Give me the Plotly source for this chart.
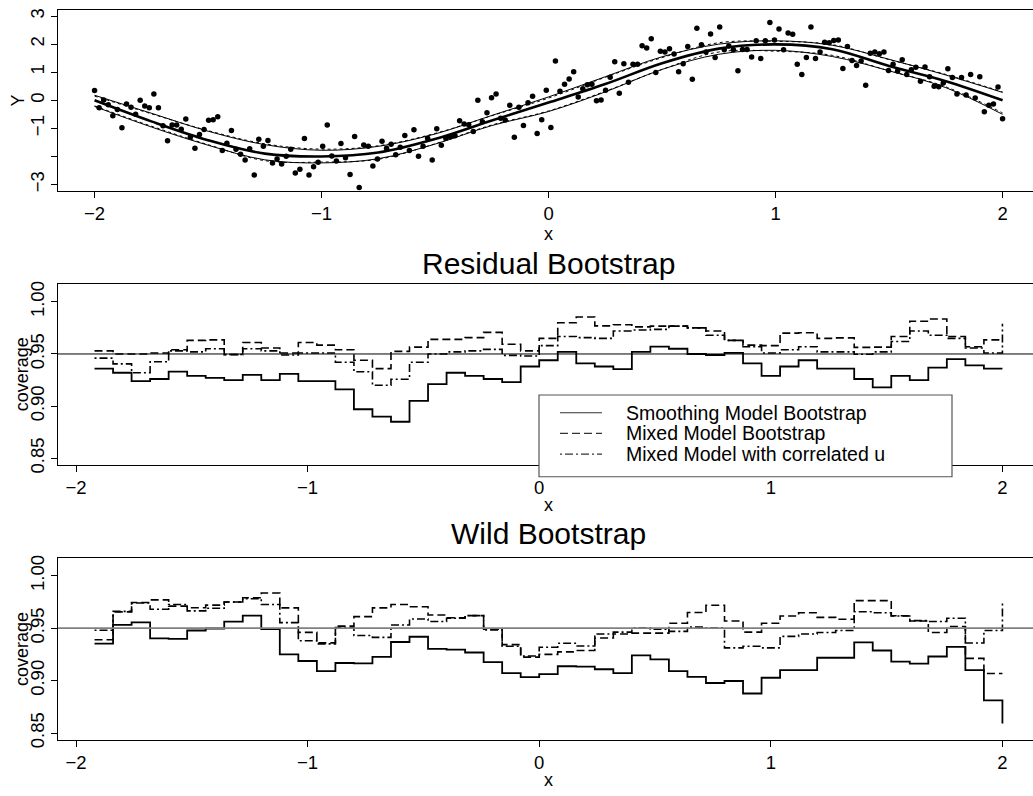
import numpy as np
import plotly.graph_objects as go

W, H = 1033, 796

# ---------------- data: top panel ----------------
pts_x = np.round(np.linspace(-2, 2, 200), 4).tolist()
pts_y = [
    0.35, -0.27, 0.01, -0.16, -0.55, -0.33, -0.98, -0.13, -0.25, -0.50,
    0.00, -0.20, -0.27, 0.22, -0.27, -0.91, -1.44, -0.88, -0.88, -1.03,
    -0.67, -1.31, -1.71, -1.22, -1.04, -0.71, -0.69, -0.59, -1.79, -1.53,
    -1.08, -1.74, -1.92, -2.13, -1.73, -2.66, -1.39, -1.64, -1.43, -2.23,
    -2.09, -2.27, -1.99, -1.74, -2.59, -2.46, -1.36, -2.66, -2.37, -2.21,
    -1.64, -0.88, -1.98, -2.16, -1.54, -2.05, -2.64, -1.29, -3.11, -1.59,
    -1.64, -2.34, -2.09, -1.46, -1.71, -1.57, -1.94, -1.67, -1.25, -1.79,
    -1.05, -1.99, -1.64, -1.35, -2.13, -1.01, -1.60, -1.35, -1.30, -1.26,
    -0.73, -0.84, -0.87, -1.11, 0.00, -0.76, -0.44, 0.09, 0.22, -0.64,
    -0.70, -0.18, -1.32, -0.25, -0.90, -0.09, 0.14, -1.18, -0.69, 0.36,
    -0.97, 1.40, 0.32, 0.57, 0.76, 1.02, 0.12, 0.41, 0.55, 0.57,
    -0.02, 0.01, 0.36, 0.82, 1.37, 0.25, 1.30, 0.64, 1.28, 1.28,
    1.94, 1.86, 2.19, 0.99, 1.75, 1.72, 1.84, 1.65, 1.02, 1.30,
    1.92, 0.75, 2.57, 1.98, 1.72, 2.36, 1.52, 2.61, 1.80, 1.93,
    1.80, 1.05, 1.81, 1.81, 1.54, 2.12, 1.49, 2.12, 2.77, 2.15,
    2.54, 1.80, 2.40, 2.35, 1.28, 0.92, 1.52, 2.61, 1.49, 1.72,
    2.07, 2.05, 2.13, 2.15, 1.13, 1.92, 1.42, 1.24, 1.40, 0.54,
    1.68, 1.72, 1.66, 1.72, 1.06, 1.28, 1.04, 1.44, 0.92, 1.09,
    1.18, 0.68, 1.19, 0.84, 0.50, 0.48, 0.62, 1.12, 0.81, 0.22,
    0.81, 0.19, 0.92, 0.08, 0.84, -0.41, -0.18, -0.13, 0.47, -0.66,
]

curve_x = [-2.0, -1.75, -1.5, -1.25, -1.0, -0.75, -0.5, -0.25, 0.0,
           0.25, 0.5, 0.75, 1.0, 1.25, 1.5, 1.75, 2.0]
fit_y = [0.0, -0.75, -1.42, -1.90, -2.00, -1.86, -1.38, -0.72, -0.08,
         0.58, 1.32, 1.84, 1.99, 1.82, 1.22, 0.68, 0.0]
band_up = [0.18, -0.46, -1.10, -1.58, -1.78, -1.64, -1.20, -0.54, 0.12,
           0.84, 1.55, 2.00, 2.12, 1.96, 1.46, 0.90, 0.28]
band_lo = [-0.22, -0.95, -1.60, -2.12, -2.23, -2.08, -1.56, -0.90, -0.40,
           0.30, 1.10, 1.64, 1.78, 1.56, 1.05, 0.45, -0.50]
dot_up = [0.15, -0.48, -1.08, -1.55, -1.74, -1.62, -1.18, -0.55, 0.08,
          0.82, 1.52, 2.05, 2.10, 1.98, 1.45, 0.92, 0.30]
dot_lo = [-0.20, -0.92, -1.58, -2.15, -2.20, -2.10, -1.55, -0.88, -0.38,
          0.32, 1.10, 1.72, 1.75, 1.60, 1.05, 0.48, -0.45]

# ---------------- data: coverage panels ----------------
bin_x = [round(-1.92 + 0.08 * k, 2) for k in range(50)]

res_smooth = [
    0.936, 0.932, 0.924, 0.926, 0.933, 0.929, 0.927, 0.925, 0.930, 0.925,
    0.931, 0.924, 0.924, 0.916, 0.897, 0.890, 0.885, 0.905, 0.921, 0.932,
    0.929, 0.926, 0.923, 0.938, 0.944, 0.952, 0.941, 0.938, 0.9355, 0.952,
    0.957, 0.955, 0.950, 0.949, 0.951, 0.941, 0.929, 0.938, 0.944, 0.936,
    0.936, 0.926, 0.918, 0.929, 0.925, 0.937, 0.945, 0.939, 0.936, 0.936,
]
res_mixed = [
    0.953, 0.950, 0.950, 0.951, 0.954, 0.963, 0.9635, 0.9494, 0.961, 0.9557,
    0.951, 0.961, 0.9585, 0.954, 0.944, 0.936, 0.9525, 0.9566, 0.964, 0.964,
    0.9657, 0.9707, 0.9594, 0.953, 0.965, 0.980, 0.9855, 0.977, 0.978, 0.976,
    0.9767, 0.9767, 0.975, 0.972, 0.963, 0.9585, 0.958, 0.970, 0.9704, 0.965,
    0.9654, 0.9563, 0.9566, 0.9667, 0.9814, 0.9836, 0.9667, 0.957, 0.9635, 0.9635,
]
res_corr = [
    0.946, 0.9405, 0.932, 0.9425, 0.953, 0.952, 0.955, 0.9495, 0.955, 0.953,
    0.949, 0.951, 0.951, 0.942, 0.933, 0.920, 0.9258, 0.942, 0.950, 0.952,
    0.953, 0.9544, 0.9487, 0.948, 0.958, 0.9667, 0.9657, 0.965, 0.972, 0.973,
    0.9736, 0.9767, 0.975, 0.968, 0.963, 0.957, 0.951, 0.954, 0.957, 0.952,
    0.952, 0.9497, 0.952, 0.962, 0.972, 0.968, 0.965, 0.9557, 0.951, 0.979,
]
wild_smooth = [
    0.9353, 0.9531, 0.9556, 0.9403, 0.9397, 0.9478, 0.9497, 0.9563, 0.962, 0.949,
    0.925, 0.9187, 0.909, 0.9168, 0.9165, 0.9227, 0.9368, 0.9418, 0.9303, 0.9296,
    0.9268, 0.9177, 0.9071, 0.9033, 0.9061, 0.9137, 0.9133, 0.9108, 0.9071, 0.924,
    0.9202, 0.909, 0.9036, 0.8977, 0.8996, 0.8877, 0.9027, 0.9099, 0.9099, 0.9218,
    0.9218, 0.9365, 0.9287, 0.918, 0.9162, 0.923, 0.9321, 0.9099, 0.8811, 0.8591,
]
wild_mixed = [
    0.939, 0.9655, 0.9745, 0.977, 0.971, 0.9695, 0.972, 0.975, 0.979, 0.9835,
    0.9694, 0.946, 0.936, 0.952, 0.961, 0.9694, 0.9726, 0.9704, 0.9625, 0.960,
    0.962, 0.949, 0.9343, 0.9224, 0.925, 0.9274, 0.9287, 0.9406, 0.9444, 0.9453,
    0.9453, 0.9547, 0.965, 0.9719, 0.9569, 0.9462, 0.9547, 0.9616, 0.9647, 0.9603,
    0.9585, 0.9763, 0.9763, 0.9619, 0.9569, 0.9459, 0.9516, 0.9212, 0.9068, 0.9068,
]
wild_corr = [
    0.948, 0.966, 0.974, 0.968, 0.9726, 0.9665, 0.969, 0.975, 0.978, 0.9726,
    0.9553, 0.938, 0.935, 0.9506, 0.943, 0.9412, 0.953, 0.9588, 0.9563, 0.9594,
    0.962, 0.9484, 0.9328, 0.9234, 0.9318, 0.9356, 0.933, 0.9444, 0.9462, 0.950,
    0.949, 0.9469, 0.951, 0.950, 0.9312, 0.9328, 0.9312, 0.9422, 0.9444, 0.9459,
    0.9478, 0.9657, 0.9647, 0.9616, 0.9572, 0.9563, 0.9594, 0.9359, 0.9478, 0.9735,
]

legend_labels = ["Smoothing Model Bootstrap", "Mixed Model Bootstrap",
                 "Mixed Model with correlated u"]
x_ticks = [-2, -1, 0, 1, 2]
x_ticktext = ["\u22122", "\u22121", "0", "1", "2"]
y1_ticks = [-3, -2, -1, 0, 1, 2, 3]
y1_ticktext = ["\u22123", "", "\u22121", "0", "1", "2", "3"]
cov_ticks = [0.85, 0.90, 0.95, 1.00]
cov_ticktext = ["0.85", "0.90", "0.95", "1.00"]

# ---------------- styles ----------------
FONT = "Liberation Sans, Arial, Helvetica, sans-serif"
DASH = "8px,4px"
DASHDOT = "2px,3px,8px,3px"
styles = [dict(color="black", width=1.8, dash="solid"),
          dict(color="black", width=1.6, dash=DASH),
          dict(color="black", width=1.6, dash=DASHDOT)]


def px_x(p):
    return p / W


def px_y(p):
    return 1 - p / H


fig = go.Figure()

# top panel
fig.add_trace(go.Scatter(x=pts_x, y=pts_y, mode="markers", xaxis="x", yaxis="y",
                         marker=dict(color="black", size=5.5), showlegend=False))
for yy, w, d in [(dot_up, 1, "dot"), (dot_lo, 1, "dot"),
                 (band_up, 1, "solid"), (band_lo, 1, "solid"),
                 (fit_y, 2.6, "solid")]:
    fig.add_trace(go.Scatter(x=curve_x, y=yy, mode="lines", xaxis="x", yaxis="y",
                             line=dict(color="black", width=w, dash=d, shape="spline",
                                       smoothing=1.0),
                             showlegend=False))

# coverage panels
for ax, series in [("2", [res_smooth, res_mixed, res_corr]),
                   ("3", [wild_smooth, wild_mixed, wild_corr])]:
    for s, st, name in zip(series, styles, legend_labels):
        fig.add_trace(go.Scatter(x=bin_x, y=s, mode="lines", name=name,
                                 xaxis="x" + ax, yaxis="y" + ax,
                                 line=dict(color=st["color"], width=st["width"],
                                           dash=st["dash"], shape="hv"),
                                 showlegend=False))

xdom = [58 / W, 1.0]
common_x = dict(showline=True, linecolor="black", linewidth=1, mirror=True,
                ticks="outside", ticklen=6, tickwidth=1, tickcolor="black",
                showgrid=False, zeroline=False, tickvals=x_ticks, ticktext=x_ticktext,
                tickfont=dict(size=18.5, family=FONT, color="black"), domain=xdom)
common_y = dict(showline=True, linecolor="black", linewidth=1, mirror=False,
                ticks="outside", ticklen=6, tickwidth=1, tickcolor="black",
                showgrid=False, zeroline=False, tickangle=-90,
                tickfont=dict(size=18.5, family=FONT, color="black"))

fig.update_layout(
    width=W, height=H, margin=dict(l=0, r=0, t=0, b=0),
    paper_bgcolor="white", plot_bgcolor="white",
    font=dict(family=FONT, color="black"),
    showlegend=False,
    xaxis=dict(common_x, range=[-2.161, 2.134], anchor="y"),
    yaxis=dict(common_y, range=[-3.235, 3.22], tickvals=y1_ticks, ticktext=y1_ticktext,
               domain=[px_y(191), px_y(7)], anchor="x"),
    xaxis2=dict(common_x, range=[-2.0777, 2.132], anchor="y2"),
    yaxis2=dict(common_y, range=[0.8436, 1.0174], tickvals=cov_ticks, ticktext=cov_ticktext,
                domain=[px_y(469), px_y(285)], anchor="x2"),
    xaxis3=dict(common_x, range=[-2.0777, 2.132], anchor="y3"),
    yaxis3=dict(common_y, range=[0.8436, 1.0174], tickvals=cov_ticks, ticktext=cov_ticktext,
                domain=[px_y(748), px_y(563)], anchor="x3"),
)

shapes = [
    dict(type="line", xref="x2 domain", yref="y2", x0=0, x1=1, y0=0.95, y1=0.95,
         line=dict(color="black", width=1)),
    dict(type="line", xref="x3 domain", yref="y3", x0=0, x1=1, y0=0.95, y1=0.95,
         line=dict(color="#808080", width=1.8)),
    # legend box
    dict(type="rect", xref="paper", yref="paper", x0=px_x(539), x1=px_x(952),
         y0=px_y(481), y1=px_y(398), fillcolor="white",
         line=dict(color="#555555", width=1.2), layer="above"),
]
rows_y = [416, 437, 458]
for ry, st in zip(rows_y, styles):
    shapes.append(dict(type="line", xref="paper", yref="paper", x0=px_x(560), x1=px_x(602),
                       y0=px_y(ry), y1=px_y(ry), layer="above",
                       line=dict(color="#333333", width=1.2, dash=st["dash"])))
fig.update_layout(shapes=shapes)

ann = []
for ry, lab in zip(rows_y, legend_labels):
    ann.append(dict(text=lab, x=px_x(624), y=px_y(ry), xref="paper", yref="paper",
                    xanchor="left", yanchor="middle", showarrow=False,
                    font=dict(size=19.5, family=FONT, color="black")))
extra = [
    dict(text="Y", x=px_x(18), y=px_y(99), textangle=-90),
    dict(text="coverage", x=px_x(22), y=px_y(377), textangle=-90),
    dict(text="coverage", x=px_x(22), y=px_y(656), textangle=-90),
    dict(text="x", x=px_x(548), y=px_y(235)),
    dict(text="x", x=px_x(548), y=px_y(510)),
    dict(text="x", x=px_x(548), y=px_y(789)),
]
for a in extra:
    a.update(xref="paper", yref="paper", xanchor="center", yanchor="middle",
             showarrow=False, font=dict(size=18, family=FONT, color="black"))
ann += extra
ann += [
    dict(text="Residual Bootstrap", x=px_x(548), y=px_y(264), xref="paper", yref="paper",
         xanchor="center", yanchor="middle", showarrow=False,
         font=dict(size=30, family=FONT, color="black")),
    dict(text="Wild Bootstrap", x=px_x(548), y=px_y(539), xref="paper", yref="paper",
         xanchor="center", yanchor="middle", showarrow=False,
         font=dict(size=30, family=FONT, color="black")),
]
fig.update_layout(annotations=ann)

fig.write_html("out.html", config={"displayModeBar": False},
               post_script="document.body.style.margin='0';document.body.style.padding='0';")
